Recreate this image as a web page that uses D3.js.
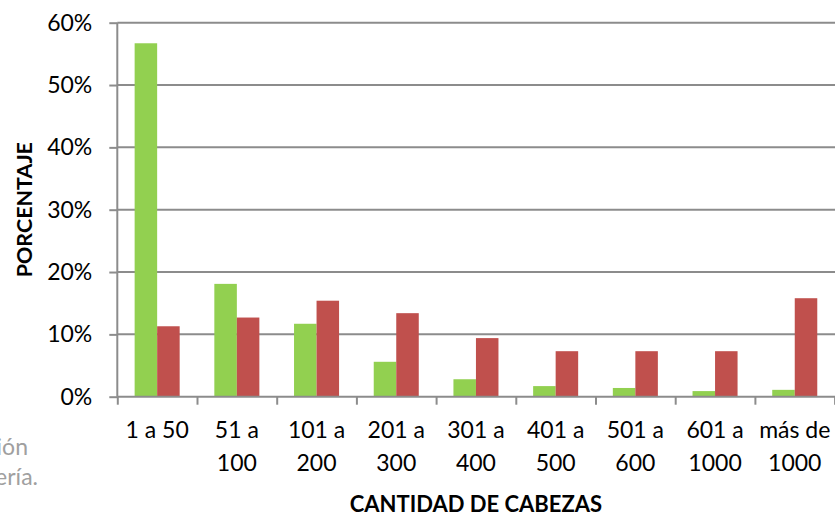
<!DOCTYPE html>
<html>
<head>
<meta charset="utf-8">
<script src="https://cdn.jsdelivr.net/npm/d3@7"></script>
<style>
  body { margin: 0; background: #fff; }
  svg { display: block; font-family: Lato, "Open Sans", sans-serif; }
</style>
</head>
<body>
<script>
// categories (two-line labels) and the two series
var categories = ["1 a 50", "51 a|100", "101 a|200", "201 a|300", "301 a|400",
                  "401 a|500", "501 a|600", "601 a|1000", "más de|1000"];
var seriesNames = ["verde", "rojo"];
var greenValues = [0.567, 0.181, 0.117, 0.056, 0.028, 0.017, 0.014, 0.009, 0.011];
var redValues = [0.113, 0.127, 0.154, 0.134, 0.094, 0.073, 0.073, 0.073, 0.158];
var yTicks = [0, 0.1, 0.2, 0.3, 0.4, 0.5, 0.6];

var width = 835, height = 513;
var plotLeft = 117.3, plotRight = 834.6, plotTop = 22.7, plotBottom = 396.7;
var colors = { verde: "#92d050", rojo: "#c0504d" };
var gridColor = "#8c8c8c";

var rows = categories.map(function (c, i) {
    return { cat: c, verde: greenValues[i], rojo: redValues[i] };
});

var svg = d3.select("body").append("svg")
    .attr("width", width)
    .attr("height", height);

svg.append("rect").attr("width", width).attr("height", height).attr("fill", "#fff");

var xScale = d3.scaleBand().domain(categories).range([plotLeft, plotRight]);
var xSub = d3.scaleBand().domain(seriesNames).range([0, xScale.bandwidth()]).paddingOuter(0.77);
var xEdge = d3.scaleLinear().domain([0, categories.length]).range([plotLeft, plotRight]);
var yScale = d3.scaleLinear().domain([0, 0.6]).range([plotBottom, plotTop]);

// gridlines
svg.append("g").selectAll("line")
    .data(yTicks.slice(1))
    .enter().append("line")
    .attr("x1", plotLeft).attr("x2", plotRight + 1)
    .attr("y1", function (d) { return yScale(d); })
    .attr("y2", function (d) { return yScale(d); })
    .attr("stroke", gridColor)
    .attr("stroke-width", 2);

// bars
var groups = svg.append("g").selectAll("g")
    .data(rows)
    .enter().append("g")
    .attr("transform", function (d) { return "translate(" + xScale(d.cat) + ",0)"; });

groups.selectAll("rect")
    .data(function (d) { return seriesNames.map(function (s) { return { s: s, v: d[s] }; }); })
    .enter().append("rect")
    .attr("x", function (d) { return xSub(d.s); })
    .attr("width", xSub.bandwidth())
    .attr("y", function (d) { return yScale(d.v); })
    .attr("height", function (d) { return plotBottom - yScale(d.v); })
    .attr("fill", function (d) { return colors[d.s]; });

// y axis
var yAxis = d3.axisLeft(yScale)
    .tickValues(yTicks)
    .tickSize(8)
    .tickPadding(17)
    .tickFormat(d3.format(".0%"));

var gy = svg.append("g")
    .attr("transform", "translate(" + plotLeft + ",0)")
    .call(yAxis);
gy.select(".domain").attr("stroke", gridColor).attr("stroke-width", 2).attr("d", "M0," + plotTop + "V" + plotBottom);
gy.selectAll(".tick line").attr("stroke", gridColor).attr("stroke-width", 2);
gy.selectAll("text").attr("font-size", 23).attr("fill", "#000").attr("font-family", "Lato");

// x axis: boundary ticks
var gxEdge = svg.append("g")
    .attr("transform", "translate(0," + plotBottom + ")")
    .call(d3.axisBottom(xEdge).tickValues(d3.range(categories.length + 1)).tickSize(8).tickFormat(""));
gxEdge.select(".domain").attr("stroke", gridColor).attr("stroke-width", 2).attr("d", "M" + plotLeft + ",0H" + (plotRight + 1));
gxEdge.selectAll(".tick line").attr("stroke", gridColor).attr("stroke-width", 2);

// x axis: category labels
var gx = svg.append("g")
    .attr("transform", "translate(0," + plotBottom + ")")
    .call(d3.axisBottom(xScale).tickSize(0).tickPadding(0));
gx.select(".domain").remove();
gx.selectAll("text")
    .attr("font-size", 23)
    .attr("fill", "#000")
    .attr("font-family", "Lato")
    .attr("dy", null)
    .each(function (d) {
        var t = d3.select(this).text("");
        d.split("|").forEach(function (line, i) {
            t.append("tspan")
                .attr("x", 0)
                .attr("y", 33.3 + i * 33)
                .attr("dy", "0.35em")
                .text(line);
        });
    });

// axis titles
svg.append("text")
    .attr("transform", "translate(31.5," + ((plotTop + plotBottom) / 2) + ") rotate(-90)")
    .attr("text-anchor", "middle")
    .attr("font-size", 21.5)
    .attr("font-weight", "bold")
    .text("PORCENTAJE");

svg.append("text")
    .attr("x", (plotLeft + plotRight) / 2)
    .attr("y", 512)
    .attr("text-anchor", "middle")
    .attr("font-size", 22)
    .attr("font-weight", "bold")
    .text("CANTIDAD DE CABEZAS");

// cut-off source note on the left
svg.append("text").attr("x", 28).attr("y", 455).attr("text-anchor", "end")
    .attr("font-size", 23).attr("fill", "#a0a0a0").text("ión");
svg.append("text").attr("x", 38).attr("y", 485).attr("text-anchor", "end")
    .attr("font-size", 23).attr("fill", "#a0a0a0").text("ería.");
</script>
</body>
</html>
